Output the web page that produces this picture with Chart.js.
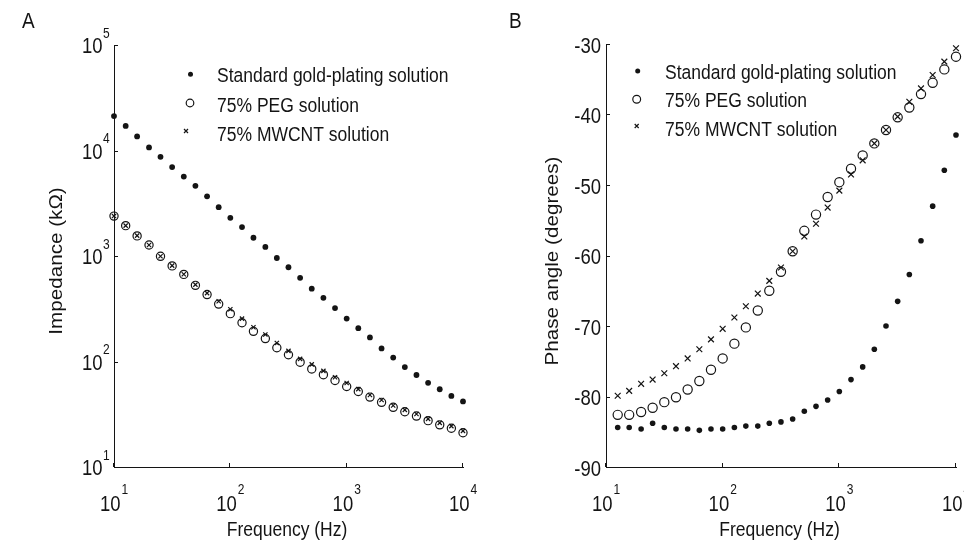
<!DOCTYPE html>
<html>
<head>
<meta charset="utf-8">
<title>Impedance and phase angle</title>
<script src="https://cdn.jsdelivr.net/npm/chart.js@4.4.1/dist/chart.umd.min.js"></script>
<style>
  html, body { margin: 0; padding: 0; background: #fff; }
  #wrap { position: relative; width: 964px; height: 544px; overflow: hidden; }
  .panel { position: absolute; top: 0; width: 482px; height: 544px; }
  #panelA { left: 0; }
  #panelB { left: 482px; }
</style>
</head>
<body>
<div id="wrap">
  <div class="panel" id="panelA"><canvas id="impedanceChart" width="482" height="544"></canvas></div>
  <div class="panel" id="panelB"><canvas id="phaseChart" width="482" height="544"></canvas></div>
</div>
<script>
// Valores (frequência em Hz)
const frequency = [10, 12.6, 15.8, 20, 25.1, 31.6, 39.8, 50.1, 63.1, 79.4, 100, 126, 158, 200, 251, 316, 398, 501, 631, 794, 1000, 1259, 1585, 1995, 2512, 3162, 3981, 5012, 6310, 7943, 10000];
const seriesNames = ["Standard gold-plating solution", "75% PEG solution", "75% MWCNT solution"];

// Impedância (kΩ)
const impedanceGold = [21200, 17100, 13600, 10700, 8710, 6970, 5660, 4630, 3680, 2900, 2300, 1880, 1490, 1220, 957, 782, 621, 490, 401, 321, 255, 207, 169, 133, 109, 88.5, 74.5, 62.8, 54.6, 47.2, 41.8];
const impedancePeg = [2390, 1940, 1550, 1270, 993, 806, 669, 527, 431, 350, 284, 233, 193, 165, 135, 116, 98.5, 85, 75, 66, 58, 52, 46, 41, 36.8, 33.4, 30.4, 27.5, 25.1, 23.3, 21.1];
const impedanceMwcnt = [2390, 1940, 1560, 1270, 993, 810, 672, 535, 445, 372, 313, 255, 211, 180, 150, 126, 106, 94, 81.5, 71, 62.5, 54.7, 48.1, 43.2, 38.3, 34.8, 31.8, 28.6, 26.2, 24.4, 22.0];

// Ângulo de fase (graus) - o painel B começa no segundo ponto de frequência
const phaseFrequency = frequency.slice(1);
const phaseGold = [-84.4, -84.4, -84.6, -83.8, -84.4, -84.6, -84.6, -84.8, -84.6, -84.6, -84.4, -84.2, -84.2, -83.8, -83.6, -83.2, -82.1, -81.4, -80.5, -79.3, -77.6, -75.8, -73.3, -70.0, -66.5, -62.7, -57.9, -53.0, -47.9, -42.9];
const phasePeg = [-82.6, -82.6, -82.2, -81.6, -80.8, -80.1, -79.0, -77.8, -76.2, -74.6, -72.5, -70.2, -67.8, -65.0, -62.3, -59.4, -56.5, -54.2, -51.7, -49.6, -47.7, -45.8, -44.1, -42.2, -40.4, -39.0, -37.1, -35.5, -33.6, -31.8];
const phaseMwcnt = [-79.9, -79.2, -78.2, -77.6, -76.7, -75.7, -74.6, -73.3, -71.9, -70.4, -68.8, -67.2, -65.4, -63.6, -61.7, -59.4, -57.3, -55.5, -53.2, -50.8, -48.5, -46.5, -44.1, -42.2, -40.3, -38.2, -36.3, -34.4, -32.5, -30.6];

// Marcas dos eixos
const frequencyTicks = [10, 100, 1000, 10000];
const impedanceTicks = [10, 100, 1000, 10000, 100000];
const phaseTicks = [-90, -80, -70, -60, -50, -40, -30];

document.addEventListener("DOMContentLoaded", function () {
  const INK = "#141414";
  const FONT = '"Liberation Sans", Arial, sans-serif';
  const STRETCH = 1.18; // a figura original está esticada na vertical

  function toPoints(xs, ys) {
    return xs.map((x, i) => ({ x: x, y: ys[i] }));
  }

  function text(ctx, str, x, y, size, align, vertical) {
    ctx.save();
    ctx.translate(x, y);
    if (vertical) {
      ctx.rotate(-Math.PI / 2);
      ctx.scale(STRETCH, 1);
    } else {
      ctx.scale(1, STRETCH);
    }
    ctx.font = size + "px " + FONT;
    ctx.textAlign = align;
    ctx.textBaseline = "middle";
    ctx.fillStyle = INK;
    ctx.fillText(str, 0, 0);
    ctx.restore();
  }

  function power(ctx, v, x, y, align) {
    const exp = String(Math.round(Math.log10(v)));
    if (align === "x") {
      text(ctx, "10", x + 6.5, y, 18.5, "right");
      text(ctx, exp, x + 7.5, y - 14.5, 12, "left");
    } else {
      text(ctx, "10", x - 11.5, y + 2, 18.5, "right");
      text(ctx, exp, x - 11, y - 11, 12, "left");
    }
  }

  function marker(ctx, style, x, y, r) {
    ctx.save();
    ctx.strokeStyle = INK;
    ctx.fillStyle = INK;
    ctx.lineWidth = 1.2;
    ctx.beginPath();
    if (style === "dot") {
      ctx.arc(x, y, r, 0, Math.PI * 2);
      ctx.fill();
    } else if (style === "ring") {
      ctx.arc(x, y, r, 0, Math.PI * 2);
      ctx.stroke();
    } else {
      ctx.moveTo(x - r, y - r);
      ctx.lineTo(x + r, y + r);
      ctx.moveTo(x + r, y - r);
      ctx.lineTo(x - r, y + r);
      ctx.stroke();
    }
    ctx.restore();
  }

  // Plugin que desenha rótulos, marcas, títulos e legenda no estilo MATLAB
  function decor(cfg) {
    return {
      id: "decor",
      afterDraw(chart) {
        const ctx = chart.ctx;
        const area = chart.chartArea;
        const xs = chart.scales.x;
        const ys = chart.scales.y;

        ctx.save();
        ctx.strokeStyle = INK;
        ctx.lineWidth = 1;
        ctx.beginPath();
        cfg.xTicks.forEach((v) => {
          const px = Math.round(xs.getPixelForValue(v)) - 0.5;
          ctx.moveTo(px, area.bottom);
          ctx.lineTo(px, area.bottom - 4);
        });
        cfg.yTicks.forEach((v) => {
          const py = Math.round(ys.getPixelForValue(v)) + 0.5;
          ctx.moveTo(area.left, py);
          ctx.lineTo(area.left + 4, py);
        });
        ctx.stroke();
        ctx.restore();

        cfg.xTicks.forEach((v) => {
          power(ctx, v, xs.getPixelForValue(v), 504.5, "x");
        });
        cfg.yTicks.forEach((v) => {
          const py = ys.getPixelForValue(v);
          if (cfg.yLog) {
            power(ctx, v, area.left, py, "y");
          } else {
            text(ctx, String(v), area.left - 5, py + 2.5, 18.5, "right");
          }
        });

        text(ctx, cfg.xTitle, (area.left + area.right) / 2 - 1.5, 530, 17.5, "center");
        text(ctx, cfg.yTitle, cfg.yTitleX, 261, 17.5, "center", true);
        text(ctx, cfg.panel, cfg.panelX, 22, 19, "left");

        cfg.legend.forEach((item, i) => {
          marker(ctx, item.style, item.x, item.y, item.r);
          text(ctx, seriesNames[i], cfg.legendTextX, item.ty, 17.5, "left");
        });
      },
    };
  }

  function makeChart(canvas, data, scales, padding, cfg) {
    return new Chart(canvas, {
      type: "scatter",
      data: { datasets: data },
      options: {
        responsive: false,
        animation: false,
        events: [],
        layout: { padding: padding, autoPadding: false },
        plugins: { legend: { display: false }, tooltip: { enabled: false } },
        scales: scales,
      },
      plugins: [decor(cfg)],
    });
  }

  function axis(type, min, max) {
    return {
      type: type,
      min: min,
      max: max,
      ticks: { display: false },
      grid: { display: false },
      border: { display: true, color: INK, width: 1 },
    };
  }

  function datasets(xs, gold, peg, mwcnt, sizes) {
    return [
      {
        label: seriesNames[2],
        data: toPoints(xs, mwcnt),
        pointStyle: "crossRot",
        pointRadius: sizes.cross,
        borderColor: INK,
        borderWidth: 1.2,
        clip: false,
      },
      {
        label: seriesNames[1],
        data: toPoints(xs, peg),
        pointStyle: "circle",
        pointRadius: sizes.ring,
        backgroundColor: "rgba(0,0,0,0)",
        borderColor: INK,
        borderWidth: 1.2,
        clip: false,
      },
      {
        label: seriesNames[0],
        data: toPoints(xs, gold),
        pointStyle: "circle",
        pointRadius: sizes.dot,
        backgroundColor: INK,
        borderColor: INK,
        borderWidth: 0,
        clip: false,
      },
    ];
  }

  makeChart(
    document.getElementById("impedanceChart"),
    datasets(frequency, impedanceGold, impedancePeg, impedanceMwcnt, { dot: 2.9, ring: 4.1, cross: 3 }),
    { x: axis("logarithmic", 10, 10000), y: axis("logarithmic", 10, 100000) },
    { left: 106, right: 19, top: 45, bottom: 69 },
    {
      panel: "A",
      panelX: 22,
      xTicks: frequencyTicks,
      yTicks: impedanceTicks,
      yLog: true,
      xTitle: "Frequency (Hz)",
      yTitle: "Impedance (kΩ)",
      yTitleX: 57.5,
      legendTextX: 217,
      legend: [
        { style: "dot", x: 190.5, y: 74.3, r: 2.5, ty: 76.5 },
        { style: "ring", x: 190, y: 103, r: 3.8, ty: 106 },
        { style: "cross", x: 186, y: 131, r: 2, ty: 135.5 },
      ],
    }
  );

  makeChart(
    document.getElementById("phaseChart"),
    datasets(phaseFrequency, phaseGold, phasePeg, phaseMwcnt, { dot: 2.8, ring: 4.6, cross: 4.1 }),
    { x: axis("logarithmic", 10, 10000), y: axis("linear", -90, -30) },
    { left: 116, right: 8, top: 44, bottom: 69 },
    {
      panel: "B",
      panelX: 27,
      xTicks: frequencyTicks,
      yTicks: phaseTicks,
      yLog: false,
      xTitle: "Frequency (Hz)",
      yTitle: "Phase angle (degrees)",
      yTitleX: 71,
      legendTextX: 183,
      legend: [
        { style: "dot", x: 155.7, y: 71, r: 2.5, ty: 73.5 },
        { style: "ring", x: 154.7, y: 99.3, r: 3.9, ty: 101.5 },
        { style: "cross", x: 154.7, y: 126, r: 2, ty: 130 },
      ],
    }
  );
});
</script>
</body>
</html>
